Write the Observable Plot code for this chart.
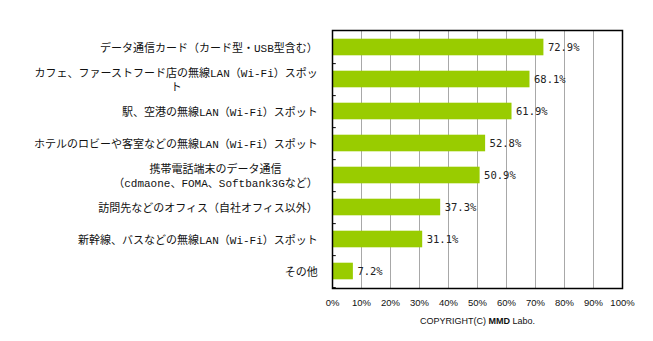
<!DOCTYPE html>
<html><head><meta charset="utf-8">
<script src="https://cdn.jsdelivr.net/npm/d3@7"></script>
<script src="https://cdn.jsdelivr.net/npm/@observablehq/plot@0.6"></script>
<style>body{margin:0;background:#fff}</style>
</head><body><div id="chart"></div>
<script>
const categories = [
  "データ通信カード（カード型・USB型含む）",
  "カフェ、ファーストフード店の無線LAN（Wi-Fi）スポッ\nト",
  "駅、空港の無線LAN（Wi-Fi）スポット",
  "ホテルのロビーや客室などの無線LAN（Wi-Fi）スポット",
  "携帯電話端末のデータ通信\n（cdmaone、FOMA、Softbank3Gなど）",
  "訪問先などのオフィス（自社オフィス以外）",
  "新幹線、バスなどの無線LAN（Wi-Fi）スポット",
  "その他"
];
const values = [72.9, 68.1, 61.9, 52.8, 50.9, 37.3, 31.1, 7.2];
const xTicks = [0, 10, 20, 30, 40, 50, 60, 70, 80, 90, 100];
const gridTicks = [10, 20, 30, 40, 50, 60, 70, 80, 90];
const caption = "COPYRIGHT(C) MMD Labo.";

const data = categories.map((c, i) => ({category: c, value: values[i]}));

const W = 653, H = 341, mT = 30, mB = 53, mL = 332, mR = 31;
const step = (H - mT - mB) / categories.length;
const sans = "'Liberation Sans', Arial, sans-serif";
const mono = "'Liberation Mono', 'Noto Sans CJK JP', monospace";

const plot = Plot.plot({
  width: W, height: H,
  marginTop: mT, marginBottom: mB, marginLeft: mL, marginRight: mR,
  style: {fontFamily: mono, fontSize: "11px", color: "#111", background: "#fff"},
  x: {domain: [0, 100], label: null},
  y: {domain: categories, padding: 0, label: null},
  marks: [
    Plot.gridX(gridTicks, {stroke: "#a8a8a8", strokeOpacity: 1}),
    Plot.barX(data, {x: "value", y: "category", fill: "#99cc00", insetTop: 7.7, insetBottom: 7.7}),
    Plot.text(data, {x: "value", y: "category", text: d => d.value.toFixed(1) + "%",
      textAnchor: "start", dx: 4, fontSize: 10.5, fontFamily: "'DejaVu Sans Mono', monospace", fill: "#222"}),
    Plot.ruleY(categories, {y: d => d, x1: 0, x2: 1.3, dy: step / 2, stroke: "#000"}),
    Plot.axisY({tickSize: 0, tickPadding: 14.7, fontSize: 11, lineHeight: 1.27, label: null}),
    Plot.axisX({ticks: xTicks, tickFormat: d => d + "%", tickSize: 0, tickPadding: 11,
      fontSize: 9.5, fontFamily: sans, label: null}),
    Plot.frame({stroke: "#000", strokeWidth: 1.5}),
    Plot.text([caption], {frameAnchor: "bottom", dy: 33, fontSize: 9, fontFamily: sans, lineAnchor: "middle", fill: "#111"})
  ]
});
document.getElementById("chart").appendChild(plot);

// center multi-line category labels (Excel style)
d3.select(plot).selectAll("text").each(function() {
  const tspans = this.querySelectorAll("tspan");
  if (tspans.length > 1) {
    let maxW = 0;
    tspans.forEach(t => { maxW = Math.max(maxW, t.getComputedTextLength()); });
    this.setAttribute("text-anchor", "middle");
    tspans.forEach(t => t.setAttribute("x", -maxW / 2));
  }
});
// bold "MMD" in the caption
d3.select(plot).selectAll("text").filter(function() { return this.textContent === caption; })
  .each(function() {
    const t = d3.select(this);
    t.text(null);
    t.append("tspan").text("COPYRIGHT(C) ");
    t.append("tspan").attr("font-weight", "bold").text("MMD");
    t.append("tspan").text(" Labo.");
  });
</script>
</body></html>
